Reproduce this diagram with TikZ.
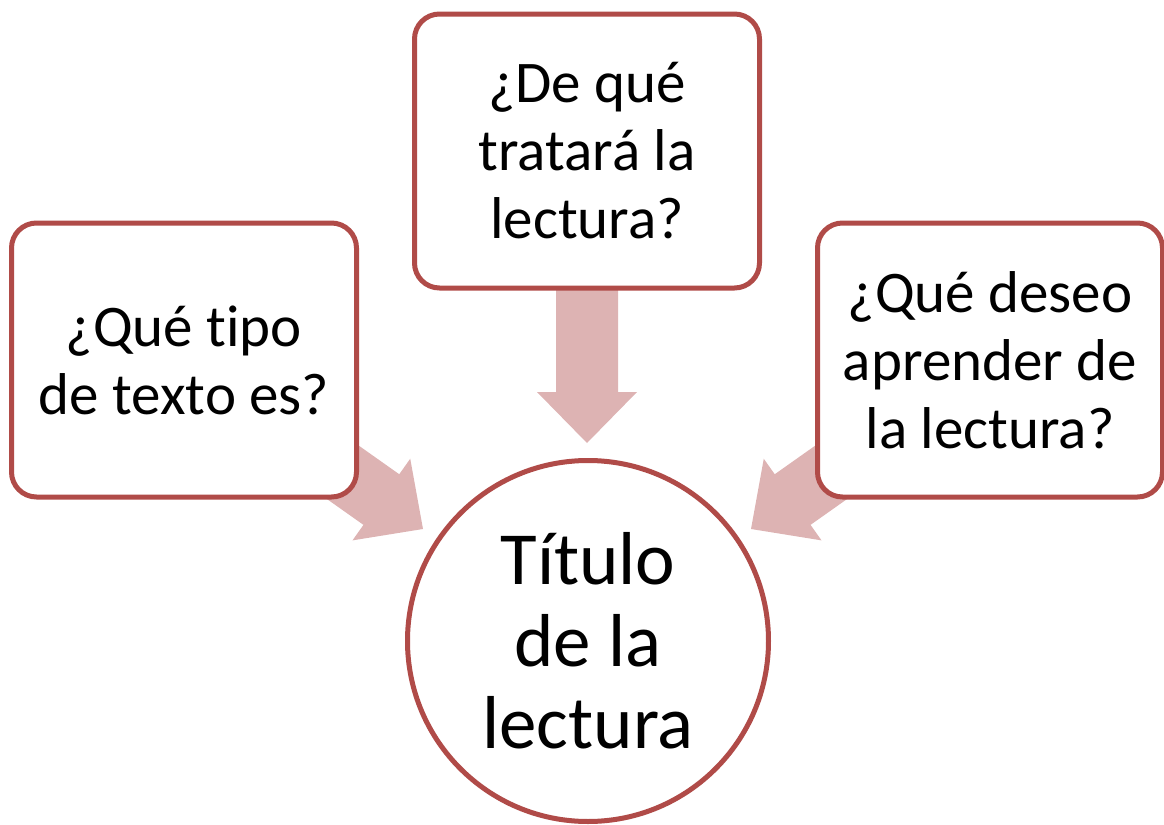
\documentclass[tikz,border=0pt]{standalone}
\usepackage{fontspec}
\setmainfont[Ligatures=NoCommon]{Carlito}
\usetikzlibrary{calc}
\definecolor{bordo}{HTML}{B04B48}
\definecolor{flecha}{HTML}{DDB3B3}
\newcommand\fatarrow[2]{%
  \fill[flecha] let \p0=($(#2)!25.5pt!(#1)$) in
    ($(#1)!15.5pt!90:(#2)$) -- ($(\p0)!15.5pt!90:(#2)$) -- ($(\p0)!25pt!90:(#2)$) --
    (#2) -- ($(\p0)!25pt!-90:(#2)$) -- ($(\p0)!15.5pt!-90:(#2)$) --
    ($(#1)!15.5pt!-90:(#2)$) -- cycle;}
\begin{document}
\begin{tikzpicture}[x=0.5pt,y=-0.5pt,
  qbox/.style={draw=bordo, line width=2.5pt, fill=white, rounded corners=12.5pt,
    minimum width=172.5pt, minimum height=137pt, align=center,
    font=\fontsize{29.5pt}{34pt}\selectfont, inner sep=0pt},
  tcirc/.style={draw=bordo, line width=2.5pt, fill=white, circle, minimum size=180.5pt,
    align=center, font=\fontsize{37.5pt}{41pt}\selectfont, inner sep=0pt}]
\useasboundingbox (0,0) rectangle (1164,825);
% coordinates
\coordinate (T0) at (587,151);
\coordinate (L0) at (184,360);
\coordinate (R0) at (990,360);
\coordinate (tipT) at (587,443);
\coordinate (tipL) at (423,529);
\coordinate (tipR) at (751,529);
% arrows
\fatarrow{T0}{tipT}
\fatarrow{L0}{tipL}
\fatarrow{R0}{tipR}
% nodes
\node[qbox] (T) at (T0) {¿De qué\\tratará la\\lectura?};
\node[qbox] (L) at (L0) {¿Qué tipo\\de texto es?};
\node[qbox] (R) at (R0) {¿Qué deseo\\aprender de\\la lectura?};
\node[tcirc] (C) at (588,641) {Título\\de la\\lectura};
\end{tikzpicture}
\end{document}
